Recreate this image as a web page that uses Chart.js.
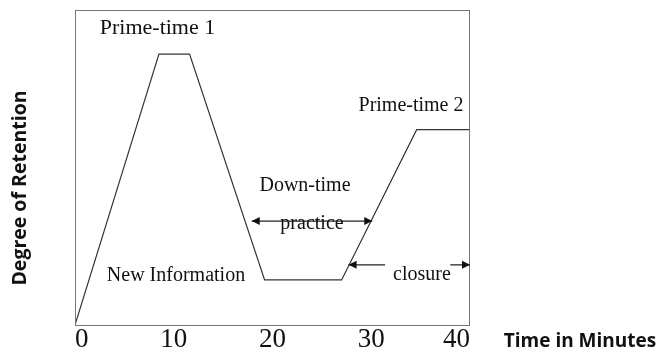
<!DOCTYPE html>
<html>
<head>
<meta charset="utf-8">
<script src="https://cdn.jsdelivr.net/npm/chart.js@4/dist/chart.umd.min.js"></script>
<style>
  html, body { margin: 0; padding: 0; background: #fff; }
  #wrap { width: 658px; height: 354px; }
</style>
</head>
<body>
<div id="wrap"><canvas id="chart" width="658" height="354"></canvas></div>
<script>
// minutes into the lesson and how much gets retained
const minutes = [0, 8.5, 11.6, 19.2, 27.0, 34.6, 40];
const retention = [0, 86, 86, 14.3, 14.3, 62, 62];
const tickLabels = ["0", "10", "20", "30", "40"];

const serif = "'Liberation Serif', 'Times New Roman', serif";
const sans = "'Open Sans', 'DejaVu Sans', sans-serif";

function arrowHead(ctx, x, y, dir) {
  ctx.beginPath();
  ctx.moveTo(x, y);
  ctx.lineTo(x - dir * 8, y - 4);
  ctx.lineTo(x - dir * 8, y + 4);
  ctx.closePath();
  ctx.fill();
}

const notes = {
  id: "notes",
  afterDraw(chart) {
    const { ctx, chartArea: a, scales } = chart;
    const px = v => scales.x.getPixelForValue(v);
    const py = v => scales.y.getPixelForValue(v);
    ctx.save();

    // frame round the plot
    ctx.strokeStyle = "#777";
    ctx.lineWidth = 1;
    ctx.strokeRect(a.left + 0.5, a.top + 0.5, a.right - a.left - 1, a.bottom - a.top);

    ctx.strokeStyle = "#222";
    ctx.fillStyle = "#111";
    ctx.lineWidth = 1.2;

    // practice <-> arrow
    let y = py(33.0);
    ctx.beginPath();
    ctx.moveTo(px(17.9), y);
    ctx.lineTo(px(30.1), y);
    ctx.stroke();
    arrowHead(ctx, px(17.9), y, -1);
    arrowHead(ctx, px(30.1), y, 1);

    // closure arrows, broken round the word
    y = py(19.1);
    ctx.beginPath();
    ctx.moveTo(px(27.7), y);
    ctx.lineTo(px(31.4), y);
    ctx.moveTo(px(38.0), y);
    ctx.lineTo(px(40), y);
    ctx.stroke();
    arrowHead(ctx, px(27.7), y, -1);
    arrowHead(ctx, px(40), y, 1);

    ctx.textAlign = "center";
    ctx.textBaseline = "middle";
    ctx.font = "22px " + serif;
    ctx.fillText("Prime-time 1", 157.5, 28);
    ctx.font = "20px " + serif;
    ctx.fillText("Prime-time 2", 411, 106);
    ctx.fillText("Down-time", 305, 186);
    ctx.fillText("practice", 312, 224);
    ctx.fillText("New Information", 176, 276);
    ctx.fillText("closure", 422, 275);

    // axis titles
    ctx.font = "bold 19px " + sans;
    ctx.fillText("Time in Minutes", 580, 342);
    ctx.save();
    ctx.translate(20, 188);
    ctx.rotate(-Math.PI / 2);
    ctx.font = "bold 19.5px " + sans;
    ctx.fillText("Degree of Retention", 0, 0);
    ctx.restore();

    ctx.restore();
  }
};

new Chart(document.getElementById("chart"), {
  type: "line",
  data: {
    datasets: [{
      data: minutes.map((m, i) => ({ x: m, y: retention[i] })),
      borderColor: "#333",
      borderWidth: 1.2,
      pointRadius: 0,
      tension: 0,
      fill: false
    }]
  },
  options: {
    responsive: false,
    animation: false,
    layout: { padding: { left: 75, right: 188, top: 10, bottom: 0 } },
    plugins: { legend: { display: false }, tooltip: { enabled: false } },
    scales: {
      x: {
        type: "linear",
        min: 0,
        max: 40,
        grid: { display: false, drawTicks: false },
        border: { display: false },
        ticks: {
          stepSize: 10,
          align: "inner",
          padding: 1,
          color: "#111",
          font: { family: serif, size: 27, lineHeight: 1 },
          maxRotation: 0,
          callback: (v, i) => tickLabels[i]
        }
      },
      y: {
        display: false,
        min: 0,
        max: 100
      }
    }
  },
  plugins: [notes]
});
</script>
</body>
</html>
